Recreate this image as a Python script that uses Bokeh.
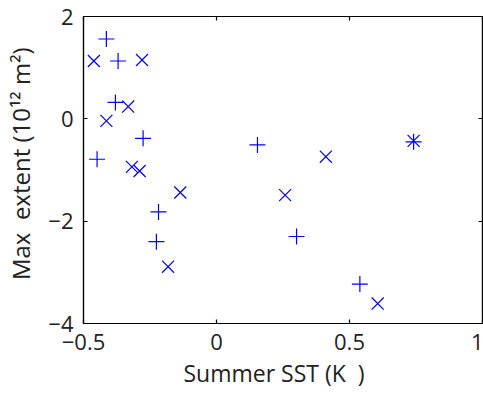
from bokeh.plotting import figure
from bokeh.models import LinearAxis, FixedTicker, Range1d
from bokeh.embed import file_html
from bokeh.resources import INLINE

# Summer SST anomaly (K) vs. maximum sea-ice extent anomaly (10^12 m^2)
sst_plus = [-0.414, -0.370, -0.380, -0.276, -0.449, 0.154, -0.218, -0.226, 0.301, 0.539, 0.741]
ext_plus = [1.56, 1.13, 0.32, -0.38, -0.79, -0.51, -1.82, -2.40, -2.30, -3.23, -0.45]

sst_cross = [-0.461, -0.280, -0.332, -0.414, -0.318, -0.289, -0.136, -0.182, 0.411, 0.258, 0.606, 0.741]
ext_cross = [1.13, 1.15, 0.24, -0.04, -0.94, -1.02, -1.44, -2.89, -0.74, -1.49, -3.61, -0.43]

x_ticks = [-0.5, 0, 0.5, 1]
x_tick_labels = ["\u22120.5", "0", "0.5", "1"]
y_ticks = [-4, -2, 0, 2]
y_tick_labels = ["\u22124", "\u22122", "0", "2"]

FONT = "Open Sans"
TEXT = "#222222"
BLUE = "#0000ff"
NBSP = "\u00a0"

p = figure(width=483, height=397, output_backend="svg", toolbar_location=None,
           x_range=Range1d(-0.5, 1), y_range=Range1d(-4, 2),
           min_border_left=83, min_border_right=1, min_border_top=16, min_border_bottom=74)
p.grid.visible = False
p.outline_line_color = "black"
p.outline_line_width = 1.2
p.background_fill_color = "white"
p.border_fill_color = "white"

p.scatter(sst_plus, ext_plus, marker="cross", size=16, line_color=BLUE, line_width=1.2)
p.scatter(sst_cross, ext_cross, marker="x", size=17, line_color=BLUE, line_width=1.2)


def style_axis(ax, ticks, labels, show_labels, label_size="22px"):
    ax.ticker = FixedTicker(ticks=ticks)
    ax.minor_tick_line_color = None
    ax.major_tick_in = 4
    ax.major_tick_out = 0
    ax.major_tick_line_color = "black"
    ax.major_tick_line_width = 1.2
    ax.axis_line_color = "black"
    ax.axis_line_width = 1.2
    if show_labels:
        ax.major_label_overrides = {float(t): s for t, s in zip(ticks, labels)}
        ax.major_label_text_font = FONT
        ax.major_label_text_font_size = "22px"
        ax.major_label_text_color = TEXT
        ax.axis_label_text_font = FONT
        ax.axis_label_text_font_size = label_size
        ax.axis_label_text_font_style = "normal"
        ax.axis_label_text_color = TEXT
    else:
        # tick marks only on the opposite sides of the box
        ax.major_label_text_color = None
        ax.major_label_text_font_size = "1px"
        ax.major_label_standoff = 0


xa = p.xaxis[0]
ya = p.yaxis[0]
style_axis(xa, x_ticks, x_tick_labels, True, "23px")
style_axis(ya, y_ticks, y_tick_labels, True, "24px")
xa.axis_label = "Summer SST (K" + NBSP * 2 + ")" + NBSP * 3
ya.axis_label = NBSP * 2 + "Max" + NBSP * 2 + "extent (10\u00b9\u00b2 m\u00b2)"
xa.major_label_standoff = 10
ya.major_label_standoff = 10
xa.axis_label_standoff = 4
ya.axis_label_standoff = 8

top = LinearAxis()
right = LinearAxis()
style_axis(top, x_ticks, x_tick_labels, False)
style_axis(right, y_ticks, y_tick_labels, False)
p.add_layout(top, "above")
p.add_layout(right, "right")

open("out.html", "w").write(file_html(p, INLINE))
